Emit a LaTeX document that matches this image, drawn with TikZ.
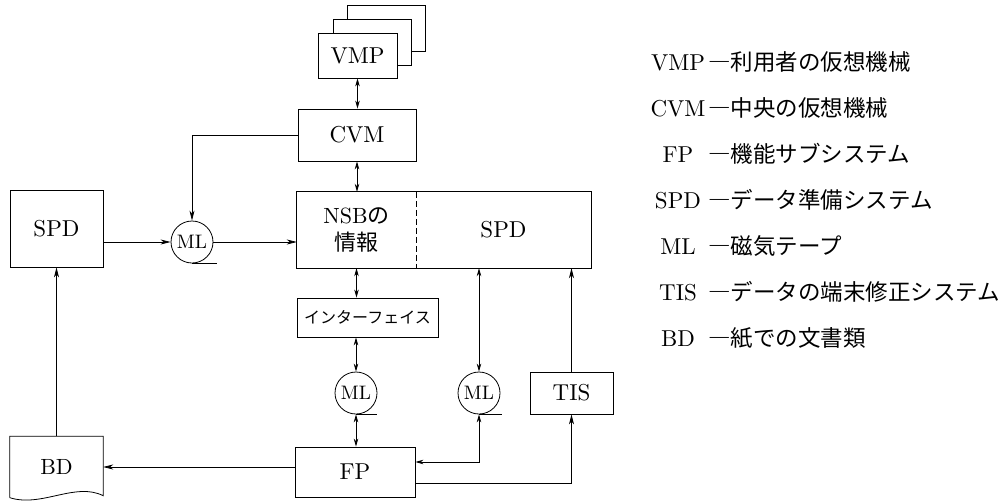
\documentclass[tikz,border=0pt]{standalone}
\usepackage{fontspec}
\setmainfont{lmroman10-regular.otf}
\newfontfamily\cjk{Noto Sans CJK JP}
\usepackage{tikz}
\usetikzlibrary{arrows.meta}
\tikzstyle{unit} = [rectangle, 
draw=black, 
fill=white, 
inner sep=0pt, 
line width=0.8pt, 
align=center, 
font=\fontsize{23}{27}\selectfont]
\tikzstyle{tape} = [circle, 
draw=black, 
minimum size=42pt, 
inner sep=0pt, 
line width=0.8pt, 
font=\fontsize{19.5}{21}\selectfont]
\tikzstyle{key} = [inner sep=0pt, font=\fontsize{23}{26}\selectfont]
\tikzstyle{arrow} = [line width=0.8pt, -{Stealth[length=10pt,width=5pt,inset=3pt]}]
\tikzstyle{twoway} = [line width=0.8pt, 
{Stealth[length=8pt,width=4.5pt,inset=2.5pt]}-{Stealth[length=8pt,width=4.5pt,inset=2.5pt]}]

\begin{document}
\begin{tikzpicture}[x=1pt, y=-1pt]
        \useasboundingbox (0,0) rectangle (1007,501);

        % --- Nodos ---
        \node (vmpc) [unit, minimum width=78pt, minimum height=46pt] at (386,28) {};
        \node (vmpb) [unit, minimum width=78pt, minimum height=46pt] at (372,42) {};
        \node (vmp) [unit, minimum width=79pt, minimum height=45pt] at (357.5,55.5) {VMP};
        \node (cvm) [unit, minimum width=118pt, minimum height=52pt] at (357,135) {CVM};
        \node (nsb) [inner sep=0pt, minimum width=119pt, minimum height=76pt, align=center,
            font=\fontsize{22}{27}\selectfont] at (356.5,230) {NSB{\cjk の}\\{\cjk 情報}};
        \node (spdr) [inner sep=0pt, minimum width=175pt, minimum height=76pt,
            font=\fontsize{23}{27}\selectfont] at (503.5,230) {SPD};
        \node (spdl) [unit, minimum width=93pt, minimum height=77pt] at (56.5,228.5) {SPD};
        \node (mla) [tape] at (192,242) {ML};
        \node (iface) [unit, minimum width=141pt, minimum height=39pt,
            font=\cjk\fontsize{16}{18}\selectfont] at (367.5,317.5) {インターフェイス};
        \node (mlb) [tape] at (356,393) {ML};
        \node (mlc) [tape] at (479,393) {ML};
        \node (tis) [unit, minimum width=83pt, minimum height=42pt] at (571.5,393) {TIS};
        \node (fp) [unit, minimum width=120pt, minimum height=50pt] at (355,472) {FP};
        \node (bd) [inner sep=0pt, minimum width=93pt, minimum height=61pt,
            font=\fontsize{22}{27}\selectfont] at (56.5,467) {BD};

        % --- Contornos ---
        \draw [line width=0.8pt] (nsb.north west) rectangle (spdr.south east);
        \draw [line width=0.8pt, dash pattern=on 6pt off 3pt] (nsb.north east) -- (nsb.south east);
        \draw [line width=0.8pt] (bd.south west) -- (bd.north west) -- (bd.north east)
            -- ([yshift=2pt]bd.south east) .. controls +(-28,-14) and +(32,10) .. (bd.south west);
        \draw [line width=0.8pt] (mla.south) -- ++(25,0);
        \draw [line width=0.8pt] (mlb.south) -- ++(21,0);
        \draw [line width=0.8pt] (mlc.south) -- ++(23,0);

        % --- Conexiones ---
        \draw [twoway] (vmp.south) -- (vmp.south |- cvm.north);
        \draw [twoway] (cvm.south) -- (cvm.south |- nsb.north);
        \draw [arrow] (cvm.west) -| (mla.north);
        \draw [arrow] (spdl.east |- mla.west) -- (mla.west);
        \draw [arrow] (mla.east) -- (mla.east -| nsb.west);
        \draw [arrow] (bd.north) -- (spdl.south);
        \draw [arrow] (fp.west |- bd.east) -- (bd.east);
        \draw [twoway] (nsb.south) -- (nsb.south |- iface.north);
        \draw [twoway] (iface.south -| mlb.north) -- (mlb.north);
        \draw [twoway] (mlb.south) -- (mlb.south |- fp.north);
        \draw [twoway] (mlc.north |- spdr.south) -- (mlc.north);
        \draw [twoway] ([yshift=10pt]fp.east) -| (mlc.south);
        \draw [arrow] ([yshift=-11pt]fp.east) -| (tis.south);
        \draw [arrow] (tis.north) -- (tis.north |- spdr.south);

        % --- Leyenda ---
        \foreach \abbr/\desc [count=\i] in {VMP/利用者の仮想機械, CVM/中央の仮想機械,
            FP/機能サブシステム, SPD/データ準備システム, ML/磁気テープ,
            TIS/データの端末修正システム, BD/紙での文書類} {
            \node (key\i) [key, anchor=base] at (678,24+46*\i) {\abbr};
            \node (desc\i) [key, anchor=base west, font=\cjk\fontsize{22.5}{26}\selectfont]
                at (708,24+46*\i) {―\desc};
        }

    \end{tikzpicture}
\end{document}
